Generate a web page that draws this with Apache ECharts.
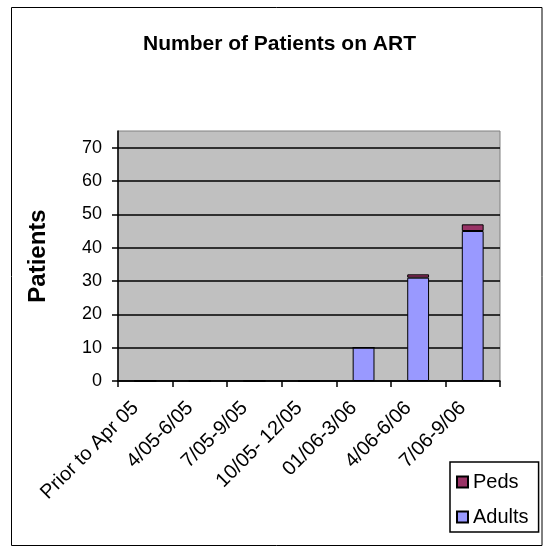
<!DOCTYPE html>
<html>
<head>
<meta charset="utf-8">
<script src="https://cdn.jsdelivr.net/npm/echarts@6/dist/echarts.min.js"></script>
<style>
html,body{margin:0;padding:0;background:#fff;}
#chart{width:543px;height:552px;}
</style>
</head>
<body>
<div id="chart"></div>
<script>
const categories = ['Prior to Apr 05', '4/05-6/05', '7/05-9/05', '10/05- 12/05', '01/06-3/06', '4/06-6/06', '7/06-9/06'];
const adults = [0, 0, 0, 0, 10, 31, 45];
const peds = [0, 0, 0, 0, 0, 1, 2];
const yTicks = [0, 10, 20, 30, 40, 50, 60, 70];

const chart = echarts.init(document.getElementById('chart'), null, {renderer: 'canvas'});
const font = '"Liberation Sans", Arial, sans-serif';
chart.setOption({
  animation: false,
  backgroundColor: '#ffffff',
  textStyle: {fontFamily: font},
  title: {
    text: 'Number of Patients on ART',
    left: 143,
    top: 34,
    padding: 0,
    textStyle: {fontFamily: font, fontSize: 21, fontWeight: 'bold', color: '#000'}
  },
  graphic: [{
    type: 'rect',
    shape: {x: 11.5, y: 7.5, width: 530.5, height: 538},
    style: {fill: 'none', stroke: '#000', lineWidth: 1},
    silent: true
  }],
  grid: {
    left: 118, top: 131, right: 43, bottom: 171,
    show: true, backgroundColor: '#c0c0c0', borderColor: '#808080', borderWidth: 1
  },
  legend: {
    data: ['Peds', 'Adults'],
    orient: 'vertical',
    left: 450, top: 462,
    padding: [10, 10, 5, 6],
    itemGap: 15,
    itemWidth: 11, itemHeight: 11,
    icon: 'rect',
    borderColor: '#000', borderWidth: 1.5,
    textStyle: {fontFamily: font, fontSize: 20, lineHeight: 20, color: '#000'}
  },
  xAxis: {
    type: 'category',
    data: categories,
    axisLine: {lineStyle: {color: '#000', width: 1.5}},
    axisTick: {show: true, length: 6, lineStyle: {color: '#000', width: 1.5}},
    axisLabel: {rotate: 45, fontSize: 20, color: '#000', fontFamily: font, margin: 14, padding: [0, 14, 0, 0], interval: 0}
  },
  yAxis: {
    type: 'value',
    name: 'Patients',
    nameLocation: 'middle',
    nameGap: 68,
    nameRotate: 90,
    nameTextStyle: {fontFamily: font, fontSize: 24, fontWeight: 'bold', color: '#000'},
    min: 0, max: 75, interval: 10,
    axisLine: {show: true, lineStyle: {color: '#000', width: 1.5}},
    axisTick: {show: true, length: 6, lineStyle: {color: '#000', width: 1.5}, customValues: yTicks},
    axisLabel: {fontSize: 18, color: '#000', fontFamily: font, margin: 16, customValues: yTicks},
    splitLine: {show: true, lineStyle: {color: '#000', width: 1.5}}
  },
  series: [
    {
      name: 'Adults', type: 'bar', stack: 'total', data: adults, barWidth: '40%',
      itemStyle: {color: '#9999ff', borderColor: '#000', borderWidth: 1}
    },
    {
      name: 'Peds', type: 'bar', stack: 'total', data: peds, barWidth: '40%',
      itemStyle: {color: '#993366', borderColor: '#000', borderWidth: 1}
    }
  ]
});
</script>
</body>
</html>
